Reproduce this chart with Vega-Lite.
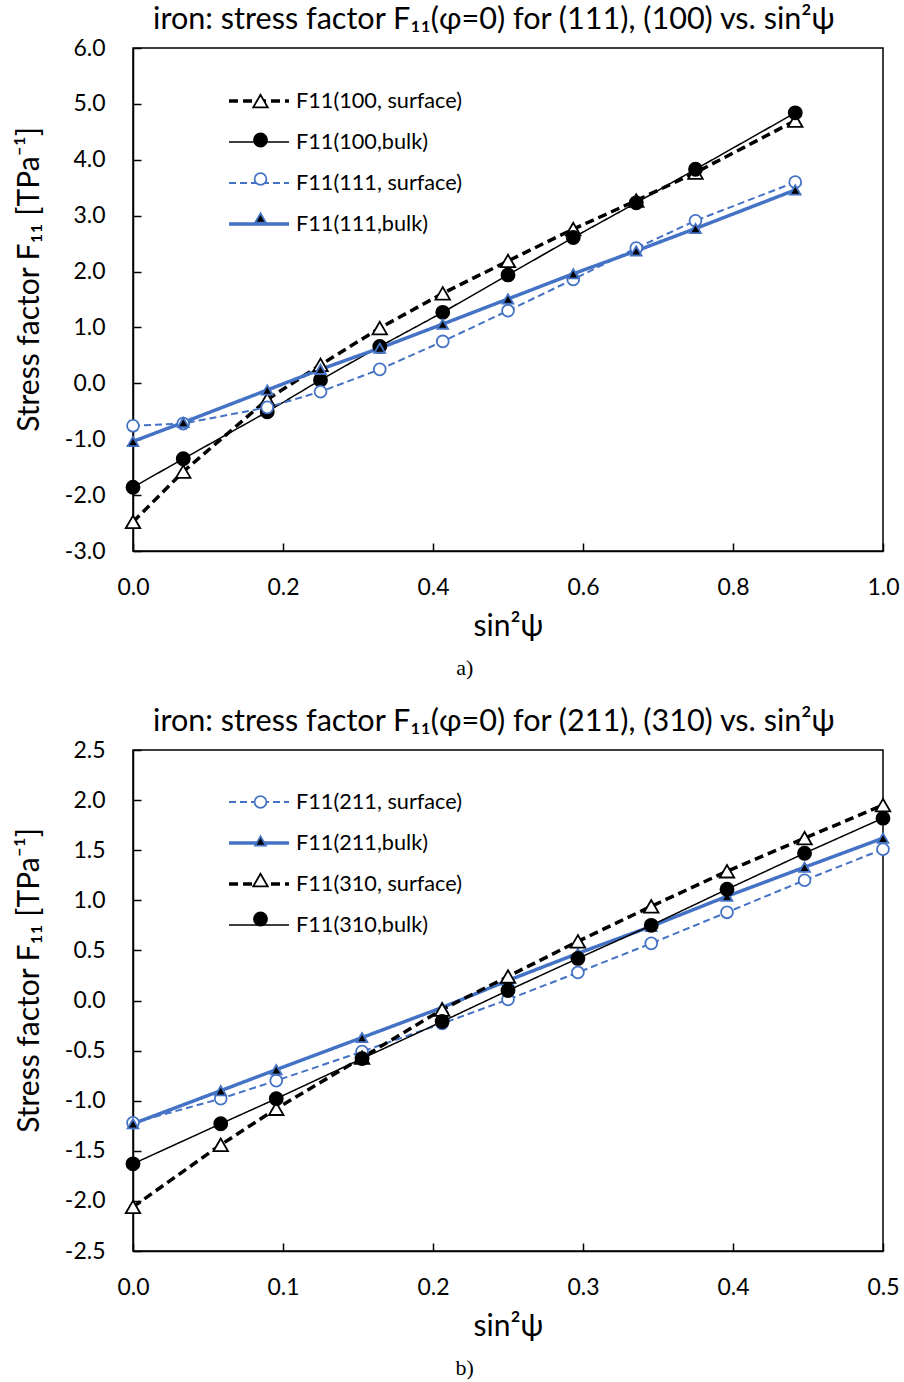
{
  "$schema": "https://vega.github.io/schema/vega-lite/v6.json",
  "padding": {"left": 13, "right": 16, "top": 4, "bottom": 2},
  "config": {
    "font": "Lato, Noto Sans",
    "locale": {"number": {"decimal": ".", "thousands": ",", "grouping": [3], "currency": ["$", ""], "minus": "-"}},
    "view": {"stroke": "black", "strokeWidth": 1.5},
    "axis": {
      "grid": false, "domainColor": "black", "domainWidth": 1.5,
      "tickColor": "black", "tickWidth": 1.5, "tickSize": -8, "labelFlush": false,
      "labelFontSize": 23, "labelColor": "black", "labelFont": "Lato, Noto Sans",
      "titleFontSize": 30, "titleColor": "black", "titleFontWeight": "normal", "titleFont": "Lato, Noto Sans"
    },
    "title": {"fontSize": 30.6, "fontWeight": "normal", "color": "black", "font": "Lato, Noto Sans"}
  },
  "datasets": {
    "a": [
      {"x": 0, "y": -2.48, "series": "F11(100, surface)"},
      {"x": 0.067, "y": -1.58, "series": "F11(100, surface)"},
      {"x": 0.179, "y": -0.29, "series": "F11(100, surface)"},
      {"x": 0.25, "y": 0.33, "series": "F11(100, surface)"},
      {"x": 0.329, "y": 0.99, "series": "F11(100, surface)"},
      {"x": 0.413, "y": 1.61, "series": "F11(100, surface)"},
      {"x": 0.5, "y": 2.19, "series": "F11(100, surface)"},
      {"x": 0.587, "y": 2.76, "series": "F11(100, surface)"},
      {"x": 0.671, "y": 3.27, "series": "F11(100, surface)"},
      {"x": 0.75, "y": 3.77, "series": "F11(100, surface)"},
      {"x": 0.883, "y": 4.70, "series": "F11(100, surface)"},
      {"x": 0, "y": -1.86, "series": "F11(100,bulk)"},
      {"x": 0.067, "y": -1.35, "series": "F11(100,bulk)"},
      {"x": 0.179, "y": -0.51, "series": "F11(100,bulk)"},
      {"x": 0.25, "y": 0.06, "series": "F11(100,bulk)"},
      {"x": 0.329, "y": 0.66, "series": "F11(100,bulk)"},
      {"x": 0.413, "y": 1.27, "series": "F11(100,bulk)"},
      {"x": 0.5, "y": 1.94, "series": "F11(100,bulk)"},
      {"x": 0.587, "y": 2.61, "series": "F11(100,bulk)"},
      {"x": 0.671, "y": 3.23, "series": "F11(100,bulk)"},
      {"x": 0.75, "y": 3.83, "series": "F11(100,bulk)"},
      {"x": 0.883, "y": 4.84, "series": "F11(100,bulk)"},
      {"x": 0, "y": -0.76, "series": "F11(111, surface)"},
      {"x": 0.067, "y": -0.72, "series": "F11(111, surface)"},
      {"x": 0.179, "y": -0.43, "series": "F11(111, surface)"},
      {"x": 0.25, "y": -0.15, "series": "F11(111, surface)"},
      {"x": 0.329, "y": 0.25, "series": "F11(111, surface)"},
      {"x": 0.413, "y": 0.75, "series": "F11(111, surface)"},
      {"x": 0.5, "y": 1.30, "series": "F11(111, surface)"},
      {"x": 0.587, "y": 1.86, "series": "F11(111, surface)"},
      {"x": 0.671, "y": 2.42, "series": "F11(111, surface)"},
      {"x": 0.75, "y": 2.91, "series": "F11(111, surface)"},
      {"x": 0.883, "y": 3.60, "series": "F11(111, surface)"},
      {"x": 0, "y": -1.04, "series": "F11(111,bulk)"},
      {"x": 0.067, "y": -0.70, "series": "F11(111,bulk)"},
      {"x": 0.179, "y": -0.12, "series": "F11(111,bulk)"},
      {"x": 0.25, "y": 0.25, "series": "F11(111,bulk)"},
      {"x": 0.329, "y": 0.63, "series": "F11(111,bulk)"},
      {"x": 0.413, "y": 1.06, "series": "F11(111,bulk)"},
      {"x": 0.5, "y": 1.51, "series": "F11(111,bulk)"},
      {"x": 0.587, "y": 1.96, "series": "F11(111,bulk)"},
      {"x": 0.671, "y": 2.37, "series": "F11(111,bulk)"},
      {"x": 0.75, "y": 2.77, "series": "F11(111,bulk)"},
      {"x": 0.883, "y": 3.46, "series": "F11(111,bulk)"}
    ],
    "b": [
      {"x": 0, "y": -1.22, "series": "F11(211, surface)"},
      {"x": 0.0585, "y": -0.98, "series": "F11(211, surface)"},
      {"x": 0.0955, "y": -0.80, "series": "F11(211, surface)"},
      {"x": 0.1527, "y": -0.51, "series": "F11(211, surface)"},
      {"x": 0.2061, "y": -0.23, "series": "F11(211, surface)"},
      {"x": 0.25, "y": 0.01, "series": "F11(211, surface)"},
      {"x": 0.2966, "y": 0.28, "series": "F11(211, surface)"},
      {"x": 0.3455, "y": 0.57, "series": "F11(211, surface)"},
      {"x": 0.396, "y": 0.88, "series": "F11(211, surface)"},
      {"x": 0.4477, "y": 1.20, "series": "F11(211, surface)"},
      {"x": 0.5, "y": 1.51, "series": "F11(211, surface)"},
      {"x": 0, "y": -1.23, "series": "F11(211,bulk)"},
      {"x": 0.0585, "y": -0.90, "series": "F11(211,bulk)"},
      {"x": 0.0955, "y": -0.69, "series": "F11(211,bulk)"},
      {"x": 0.1527, "y": -0.37, "series": "F11(211,bulk)"},
      {"x": 0.2061, "y": -0.07, "series": "F11(211,bulk)"},
      {"x": 0.25, "y": 0.20, "series": "F11(211,bulk)"},
      {"x": 0.2966, "y": 0.47, "series": "F11(211,bulk)"},
      {"x": 0.3455, "y": 0.74, "series": "F11(211,bulk)"},
      {"x": 0.396, "y": 1.04, "series": "F11(211,bulk)"},
      {"x": 0.4477, "y": 1.33, "series": "F11(211,bulk)"},
      {"x": 0.5, "y": 1.62, "series": "F11(211,bulk)"},
      {"x": 0, "y": -2.06, "series": "F11(310, surface)"},
      {"x": 0.0585, "y": -1.44, "series": "F11(310, surface)"},
      {"x": 0.0955, "y": -1.08, "series": "F11(310, surface)"},
      {"x": 0.1527, "y": -0.57, "series": "F11(310, surface)"},
      {"x": 0.2061, "y": -0.09, "series": "F11(310, surface)"},
      {"x": 0.25, "y": 0.24, "series": "F11(310, surface)"},
      {"x": 0.2966, "y": 0.59, "series": "F11(310, surface)"},
      {"x": 0.3455, "y": 0.94, "series": "F11(310, surface)"},
      {"x": 0.396, "y": 1.29, "series": "F11(310, surface)"},
      {"x": 0.4477, "y": 1.62, "series": "F11(310, surface)"},
      {"x": 0.5, "y": 1.95, "series": "F11(310, surface)"},
      {"x": 0, "y": -1.63, "series": "F11(310,bulk)"},
      {"x": 0.0585, "y": -1.23, "series": "F11(310,bulk)"},
      {"x": 0.0955, "y": -0.98, "series": "F11(310,bulk)"},
      {"x": 0.1527, "y": -0.58, "series": "F11(310,bulk)"},
      {"x": 0.2061, "y": -0.21, "series": "F11(310,bulk)"},
      {"x": 0.25, "y": 0.10, "series": "F11(310,bulk)"},
      {"x": 0.2966, "y": 0.42, "series": "F11(310,bulk)"},
      {"x": 0.3455, "y": 0.75, "series": "F11(310,bulk)"},
      {"x": 0.396, "y": 1.11, "series": "F11(310,bulk)"},
      {"x": 0.4477, "y": 1.47, "series": "F11(310,bulk)"},
      {"x": 0.5, "y": 1.82, "series": "F11(310,bulk)"}
    ]
  },
  "spacing": 27,
  "resolve": {
    "scale": {"color": "independent", "strokeDash": "independent", "strokeWidth": "independent", "shape": "independent", "fill": "independent", "stroke": "independent", "size": "independent"},
    "legend": {"color": "independent", "strokeDash": "independent", "strokeWidth": "independent", "shape": "independent", "fill": "independent", "stroke": "independent", "size": "independent"}
  },
  "vconcat": [
    {
      "title": {"text": "a)", "orient": "bottom", "anchor": "middle", "font": "Liberation Serif", "fontSize": 22, "offset": 16, "dx": 8},
      "vconcat": [
        {
          "title": {"text": "iron: stress factor F₁₁(φ=0) for (111), (100) vs. sin²ψ", "offset": 1, "dx": -14},
          "width": 750,
          "height": 503,
          "data": {"name": "a"},
          "encoding": {
            "x": {"field": "x", "type": "quantitative", "scale": {"domain": [0, 1], "nice": false, "zero": false},
                  "axis": {"values": [0, 0.2, 0.4, 0.6, 0.8, 1.0], "format": ".1f", "title": "sin²ψ", "labelPadding": 33, "titlePadding": 12}},
            "y": {"field": "y", "type": "quantitative", "scale": {"domain": [-3, 6], "nice": false, "zero": false},
                  "axis": {"values": [-3, -2, -1, 0, 1, 2, 3, 4, 5, 6], "format": ".1f", "title": "Stress factor F₁₁  [TPa⁻¹]", "labelPadding": 36, "titlePadding": 20, "titleY": 231}}
          },
          "layer": [
            {
              "mark": {"type": "line"},
              "encoding": {
                "color": {"field": "series", "type": "nominal",
                  "scale": {"domain": ["F11(100, surface)", "F11(100,bulk)", "F11(111, surface)", "F11(111,bulk)"], "range": ["#000000", "#000000", "#4472C4", "#4472C4"]},
                  "legend": {"title": null, "orient": "none", "legendX": 94, "legendY": 43, "symbolType": "stroke", "symbolSize": 3600, "clipHeight": 20, "rowPadding": 19, "padding": 0, "labelFontSize": 21.7, "labelColor": "black", "labelOffset": 5, "labelLimit": 400}},
                "strokeDash": {"field": "series", "type": "nominal",
                  "scale": {"domain": ["F11(100, surface)", "F11(100,bulk)", "F11(111, surface)", "F11(111,bulk)"], "range": [[9, 5], [1, 0], [7, 4], [1, 0]]},
                  "legend": {"title": null, "orient": "none", "legendX": 94, "legendY": 43, "symbolType": "stroke", "symbolSize": 3600, "clipHeight": 20, "rowPadding": 19, "padding": 0, "labelFontSize": 21.7, "labelColor": "black", "labelOffset": 5, "labelLimit": 400}},
                "strokeWidth": {"field": "series", "type": "nominal",
                  "scale": {"type": "ordinal", "domain": ["F11(100, surface)", "F11(100,bulk)", "F11(111, surface)", "F11(111,bulk)"], "range": [3.5, 1.5, 2, 3.5]},
                  "legend": {"title": null, "orient": "none", "legendX": 94, "legendY": 43, "symbolType": "stroke", "symbolSize": 3600, "clipHeight": 20, "rowPadding": 19, "padding": 0, "labelFontSize": 21.7, "labelColor": "black", "labelOffset": 5, "labelLimit": 400}}
              }
            },
            {
              "mark": {"type": "point", "opacity": 1, "filled": true, "strokeWidth": 1.8},
              "encoding": {
                "shape": {"field": "series", "type": "nominal", "scale": {"range": ["triangle-up", "circle", "circle", "triangle-up"]},
                  "legend": {"title": null, "orient": "none", "legendX": 119, "legendY": 43, "clipHeight": 20, "rowPadding": 19, "padding": 0, "labelExpr": "''", "labelOpacity": 0, "symbolOpacity": 1, "symbolStrokeWidth": 1.8}},
                "fill": {"field": "series", "type": "nominal", "scale": {"range": ["#ffffff", "#000000", "#ffffff", "#000000"]},
                  "legend": {"title": null, "orient": "none", "legendX": 119, "legendY": 43, "clipHeight": 20, "rowPadding": 19, "padding": 0, "labelExpr": "''", "labelOpacity": 0, "symbolOpacity": 1, "symbolStrokeWidth": 1.8}},
                "stroke": {"field": "series", "type": "nominal", "scale": {"range": ["#000000", "#000000", "#4472C4", "#4472C4"]},
                  "legend": {"title": null, "orient": "none", "legendX": 119, "legendY": 43, "clipHeight": 20, "rowPadding": 19, "padding": 0, "labelExpr": "''", "labelOpacity": 0, "symbolOpacity": 1, "symbolStrokeWidth": 1.8}},
                "size": {"field": "series", "type": "nominal", "scale": {"type": "ordinal", "range": [210, 170, 140, 115]},
                  "legend": {"title": null, "orient": "none", "legendX": 119, "legendY": 43, "clipHeight": 20, "rowPadding": 19, "padding": 0, "labelExpr": "''", "labelOpacity": 0, "symbolOpacity": 1, "symbolStrokeWidth": 1.8}}
              }
            }
          ]
        }
      ]
    },
    {
      "title": {"text": "b)", "orient": "bottom", "anchor": "middle", "font": "Liberation Serif", "fontSize": 22, "offset": 16, "dx": 8},
      "vconcat": [
        {
          "title": {"text": "iron: stress factor F₁₁(φ=0) for (211), (310) vs. sin²ψ", "offset": 1, "dx": -14},
          "width": 750,
          "height": 501,
          "data": {"name": "b"},
          "encoding": {
            "x": {"field": "x", "type": "quantitative", "scale": {"domain": [0, 0.5], "nice": false, "zero": false},
                  "axis": {"values": [0, 0.1, 0.2, 0.3, 0.4, 0.5], "format": ".1f", "title": "sin²ψ", "labelPadding": 33, "titlePadding": 12}},
            "y": {"field": "y", "type": "quantitative", "scale": {"domain": [-2.5, 2.5], "nice": false, "zero": false},
                  "axis": {"values": [-2.5, -2, -1.5, -1, -0.5, 0, 0.5, 1, 1.5, 2, 2.5], "format": ".1f", "title": "Stress factor F₁₁  [TPa⁻¹]", "labelPadding": 36, "titlePadding": 20, "titleY": 230}}
          },
          "layer": [
            {
              "mark": {"type": "line"},
              "encoding": {
                "color": {"field": "series", "type": "nominal",
                  "scale": {"domain": ["F11(211, surface)", "F11(211,bulk)", "F11(310, surface)", "F11(310,bulk)"], "range": ["#4472C4", "#4472C4", "#000000", "#000000"]},
                  "legend": {"title": null, "orient": "none", "legendX": 94, "legendY": 42, "symbolType": "stroke", "symbolSize": 3600, "clipHeight": 20, "rowPadding": 19, "padding": 0, "labelFontSize": 21.7, "labelColor": "black", "labelOffset": 5, "labelLimit": 400}},
                "strokeDash": {"field": "series", "type": "nominal",
                  "scale": {"domain": ["F11(211, surface)", "F11(211,bulk)", "F11(310, surface)", "F11(310,bulk)"], "range": [[7, 4], [1, 0], [9, 5], [1, 0]]},
                  "legend": {"title": null, "orient": "none", "legendX": 94, "legendY": 42, "symbolType": "stroke", "symbolSize": 3600, "clipHeight": 20, "rowPadding": 19, "padding": 0, "labelFontSize": 21.7, "labelColor": "black", "labelOffset": 5, "labelLimit": 400}},
                "strokeWidth": {"field": "series", "type": "nominal",
                  "scale": {"type": "ordinal", "domain": ["F11(211, surface)", "F11(211,bulk)", "F11(310, surface)", "F11(310,bulk)"], "range": [2, 3.5, 3.5, 1.5]},
                  "legend": {"title": null, "orient": "none", "legendX": 94, "legendY": 42, "symbolType": "stroke", "symbolSize": 3600, "clipHeight": 20, "rowPadding": 19, "padding": 0, "labelFontSize": 21.7, "labelColor": "black", "labelOffset": 5, "labelLimit": 400}}
              }
            },
            {
              "mark": {"type": "point", "opacity": 1, "filled": true, "strokeWidth": 1.8},
              "encoding": {
                "shape": {"field": "series", "type": "nominal", "scale": {"range": ["circle", "triangle-up", "triangle-up", "circle"]},
                  "legend": {"title": null, "orient": "none", "legendX": 119, "legendY": 42, "clipHeight": 20, "rowPadding": 19, "padding": 0, "labelExpr": "''", "labelOpacity": 0, "symbolOpacity": 1, "symbolStrokeWidth": 1.8}},
                "fill": {"field": "series", "type": "nominal", "scale": {"range": ["#ffffff", "#000000", "#ffffff", "#000000"]},
                  "legend": {"title": null, "orient": "none", "legendX": 119, "legendY": 42, "clipHeight": 20, "rowPadding": 19, "padding": 0, "labelExpr": "''", "labelOpacity": 0, "symbolOpacity": 1, "symbolStrokeWidth": 1.8}},
                "stroke": {"field": "series", "type": "nominal", "scale": {"range": ["#4472C4", "#4472C4", "#000000", "#000000"]},
                  "legend": {"title": null, "orient": "none", "legendX": 119, "legendY": 42, "clipHeight": 20, "rowPadding": 19, "padding": 0, "labelExpr": "''", "labelOpacity": 0, "symbolOpacity": 1, "symbolStrokeWidth": 1.8}},
                "size": {"field": "series", "type": "nominal", "scale": {"type": "ordinal", "range": [140, 115, 210, 170]},
                  "legend": {"title": null, "orient": "none", "legendX": 119, "legendY": 42, "clipHeight": 20, "rowPadding": 19, "padding": 0, "labelExpr": "''", "labelOpacity": 0, "symbolOpacity": 1, "symbolStrokeWidth": 1.8}}
              }
            }
          ]
        }
      ]
    }
  ]
}
